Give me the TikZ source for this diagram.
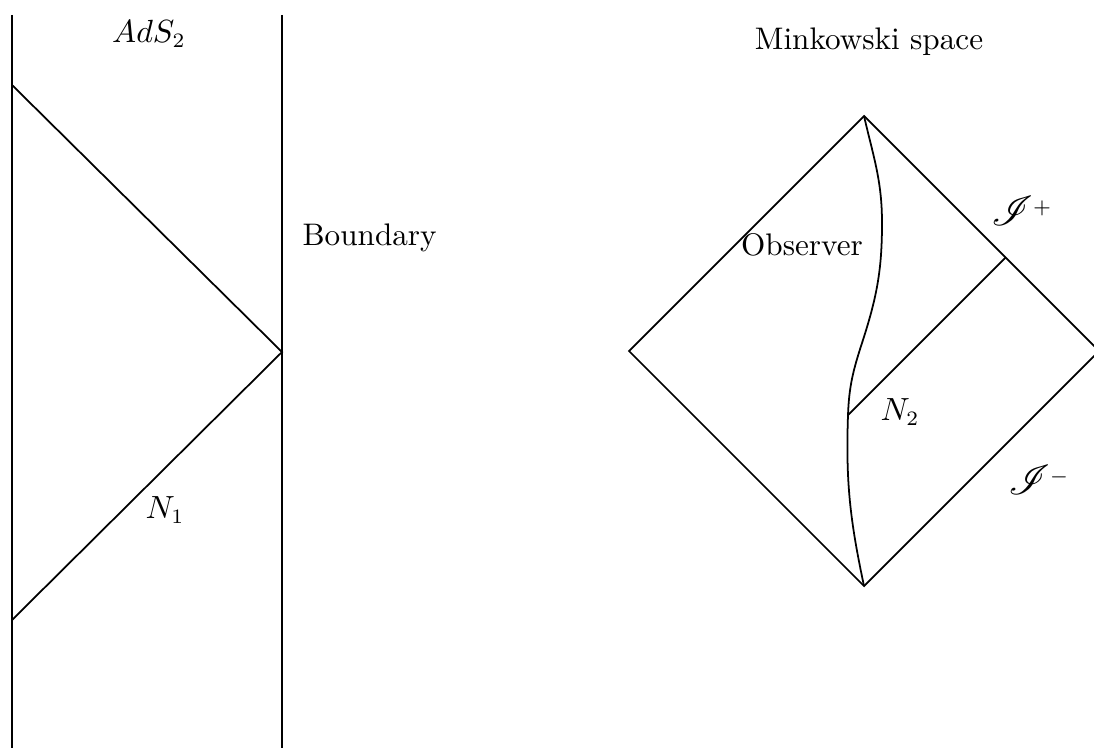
\documentclass[tikz,border=0pt]{standalone}
\usepackage{mathrsfs}
\newcommand{\scri}{\scalebox{1.3}{$\mathscr{I}$}}
\begin{document}
\begin{tikzpicture}[x=1.2cm, y=1.2cm, line width=0.6pt,
    every node/.style={font=\fontsize{10.65}{13}\selectfont}]
    \useasboundingbox (0,0) rectangle (10.94,7.48);

    % AdS_2
    \coordinate (lt) at (0.12,7.33);
    \coordinate (lb) at (0.12,0);
    \coordinate (rt) at (2.82,7.33);
    \coordinate (rb) at (2.82,0);
    \coordinate (a) at (0.12,6.63);
    \coordinate (apex) at (2.82,3.96);
    \coordinate (b) at (0.12,1.28);
    \draw (lt) -- (lb);
    \draw (rt) -- (rb);
    \draw (a) -- (apex) -- (b);
    \node (ads) at (1.49,7.14) {$AdS_2$};
    \node[anchor=west] (bdy) at (2.92,5.10) {Boundary};
    \node (n1) at (1.65,2.38) {$N_1$};

    % Minkowski
    \coordinate (top) at (8.64,6.32);
    \coordinate (left) at (6.29,3.97);
    \coordinate (bot) at (8.64,1.62);
    \coordinate (right) at (10.99,3.97);
    \coordinate (obs) at (8.48,3.33);
    \coordinate (sp) at (10.055,4.905);
    \draw (top) -- (left) -- (bot) -- (right) -- cycle;
    \draw (obs) -- (sp);
    % Observer
    \draw (top) to[out=-77,in=90] (8.82,5.25) to[out=-90,in=72] (8.62,4.05)
        to[out=-108,in=88] (obs) to[out=-92,in=102] (bot);
    \node (mink) at (8.69,7.06) {Minkowski space};
    \node (obsname) at (8.02,5.03) {Observer};
    \node (n2) at (9.0,3.36) {$N_2$};
    \node (iplus) at (10.22,5.37) {\scri$^+$};
    \node (iminus) at (10.39,2.68) {\scri$^-$};
\end{tikzpicture}
\end{document}
